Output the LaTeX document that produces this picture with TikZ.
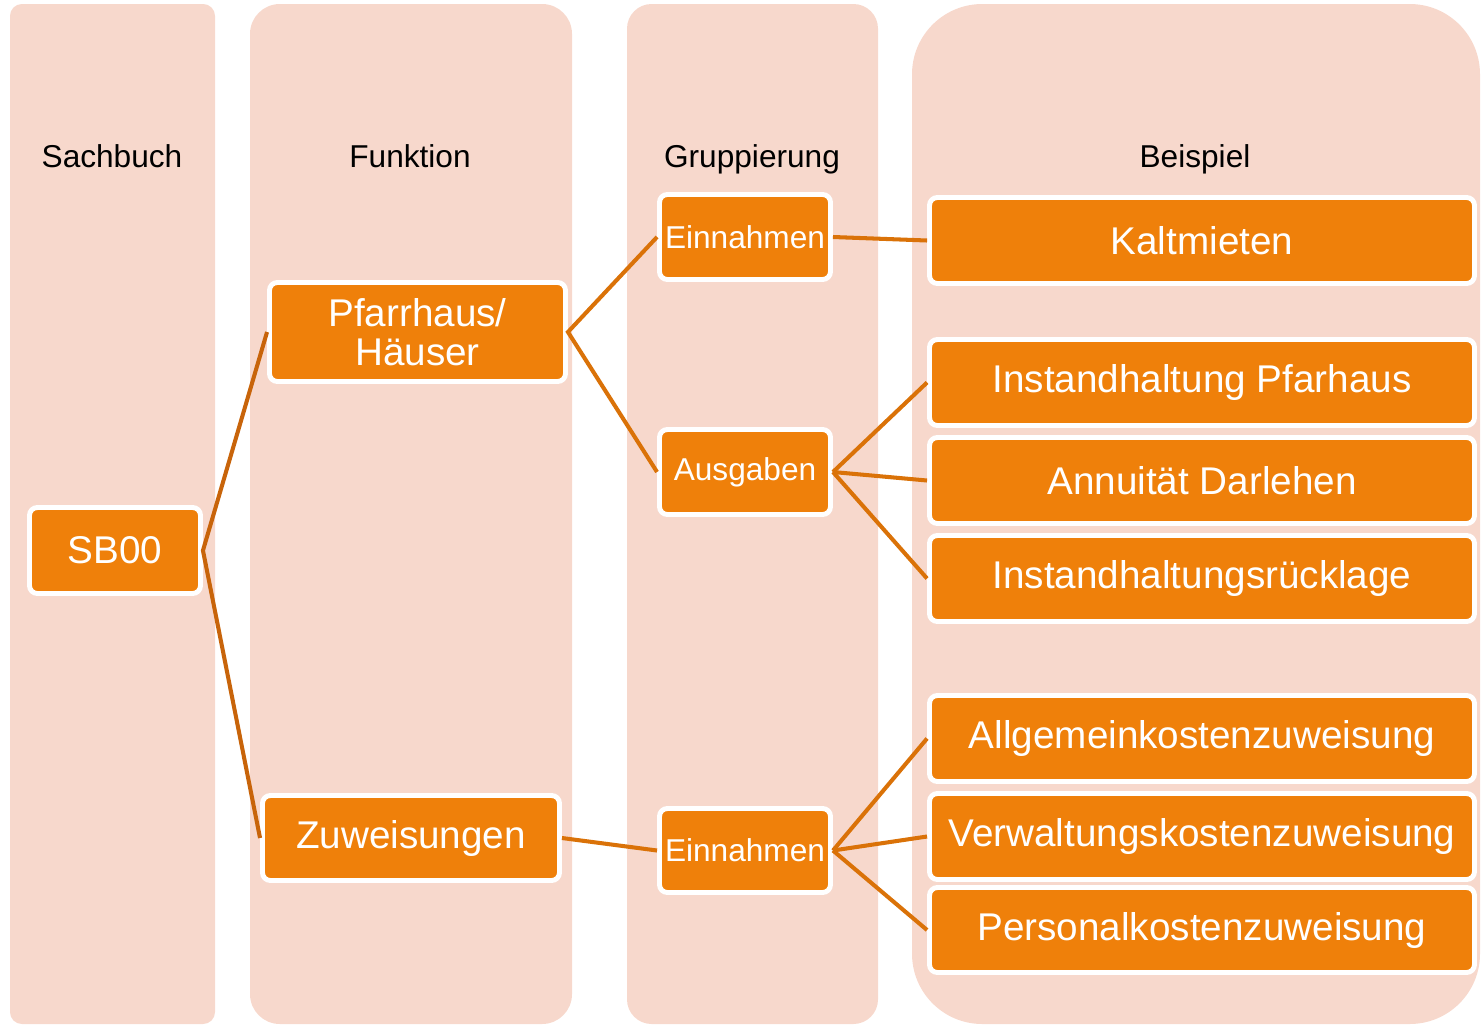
\documentclass[tikz,border=0pt]{standalone}
\usepackage{fontspec}
\setmainfont{Liberation Sans}
\definecolor{colbg}{RGB}{247,216,204}
\definecolor{boxfill}{RGB}{239,128,10}
\definecolor{lineA}{RGB}{200,100,10}
\definecolor{lineB}{RGB}{218,114,8}
\tikzset{
  colbox/.style={fill=colbg, draw=none},
  box/.style={rectangle, fill=boxfill, draw=white, line width=2.8pt, rounded corners=4.5pt,
    inner sep=0pt, text=white, align=center, font=\fontsize{22}{23}\selectfont},
  smallbox/.style={box, font=\fontsize{18}{20}\selectfont},
  header/.style={inner sep=0pt, anchor=base, text=black, font=\fontsize{18}{20}\selectfont},
  linkA/.style={draw=lineA, line width=2.3pt},
  linkB/.style={draw=lineB, line width=2.3pt},
}
\begin{document}
\begin{tikzpicture}[x=0.02cm, y=-0.02cm]
\useasboundingbox (0,0) rectangle (1484,1025);
% column backgrounds
\fill[colbox, rounded corners=6.8pt] (10,4) rectangle (215,1024);
\fill[colbox, rounded corners=17pt] (250,4) rectangle (572,1024);
\fill[colbox, rounded corners=14pt] (627,4) rectangle (878,1024);
\fill[colbox, rounded corners=40pt] (912,4) rectangle (1480,1024);
% headers
\node[header] (h1) at (112,167) {Sachbuch};
\node[header] (h2) at (410,167) {Funktion};
\node[header] (h3) at (752,167) {Gruppierung};
\node[header] (h4) at (1195,167) {Beispiel};
% nodes
\node[box, minimum width=171*0.02cm, minimum height=86*0.02cm] (sb) at (115,550.5) {SB00};
\node[box, minimum width=296*0.02cm, minimum height=99*0.02cm, font=\fontsize{22}{22.5}\selectfont] (pf) at (417.5,332) {Pfarrhaus/\\Häuser};
\node[box, minimum width=297*0.02cm, minimum height=85*0.02cm] (zu) at (411,838) {Zuweisungen};
\node[smallbox, minimum width=171*0.02cm, minimum height=85*0.02cm] (e1) at (745,237) {Einnahmen};
\node[smallbox, minimum width=171*0.02cm, minimum height=85*0.02cm] (au) at (745,472) {Ausgaben};
\node[smallbox, minimum width=171*0.02cm, minimum height=84*0.02cm] (e2) at (745,850.5) {Einnahmen};
\node[box, minimum width=545*0.02cm, minimum height=86*0.02cm] (k) at (1202,240.5) {Kaltmieten};
\node[box, minimum width=545*0.02cm, minimum height=86*0.02cm] (ip) at (1202,382.5) {Instandhaltung Pfarhaus};
\node[box, minimum width=545*0.02cm, minimum height=86*0.02cm] (ad) at (1202,480.5) {Annuität Darlehen};
\node[box, minimum width=545*0.02cm, minimum height=86*0.02cm] (ir) at (1202,578.5) {Instandhaltungsrücklage};
\node[box, minimum width=545*0.02cm, minimum height=86*0.02cm] (ak) at (1202,738.5) {Allgemeinkostenzuweisung};
\node[box, minimum width=545*0.02cm, minimum height=86*0.02cm] (vk) at (1202,836.5) {Verwaltungskostenzuweisung};
\node[box, minimum width=545*0.02cm, minimum height=85*0.02cm] (pk) at (1202,930) {Personalkostenzuweisung};
% connectors
\draw[linkA] (pf.west) -- (sb.east) -- (zu.west);
\draw[linkB] (e1.west) -- (pf.east) -- (au.west);
\draw[linkB] (zu.east) -- (e2.west);
\draw[linkB] (e1.east) -- (k.west);
\draw[linkB] (au.east) -- (ip.west);
\draw[linkB] (au.east) -- (ad.west);
\draw[linkB] (au.east) -- (ir.west);
\draw[linkB] (e2.east) -- (ak.west);
\draw[linkB] (e2.east) -- (vk.west);
\draw[linkB] (e2.east) -- (pk.west);
\end{tikzpicture}
\end{document}
